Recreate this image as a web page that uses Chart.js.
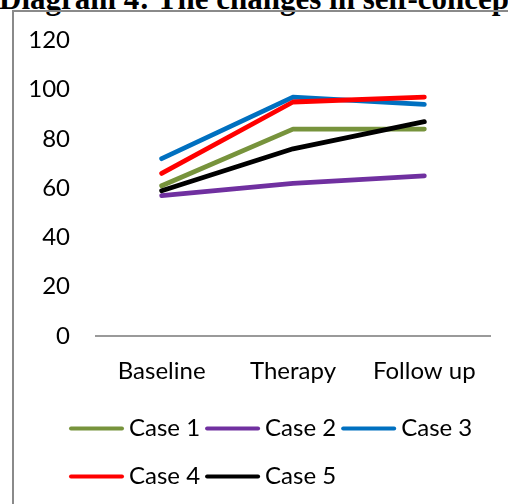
<!DOCTYPE html>
<html>
<head>
<meta charset="utf-8">
<script src="https://cdn.jsdelivr.net/npm/chart.js@4.4.1/dist/chart.umd.min.js"></script>
<style>
  html, body { margin: 0; padding: 0; width: 508px; height: 504px; overflow: hidden; background: #fff; }
  #title { position: absolute; left: -1px; top: -17px; font-family: "Liberation Serif", "DejaVu Serif", serif; font-weight: bold; font-size: 31px; line-height: 31px; white-space: nowrap; color: #000; }
  #frame { position: absolute; left: 12px; top: 10px; width: 700px; height: 700px; border: 2px solid #8a8a8a; box-sizing: border-box; }
  #wrap { position: absolute; left: 0; top: 0; width: 508px; height: 508px; }
</style>
</head>
<body>
<div id="title">Diagram 4: The changes in self-concept</div>
<div id="frame"></div>
<div id="wrap"><canvas id="c" width="508" height="508"></canvas></div>
<script>
const categories = ["Baseline", "Therapy", "Follow up"];
const seriesNames = ["Case 1", "Case 2", "Case 3", "Case 4", "Case 5"];
const case1 = [61, 84, 84];
const case2 = [57, 62, 65];
const case3 = [72, 97, 94];
const case4 = [66, 95, 97];
const case5 = [59, 76, 87];
const yTicks = [0, 20, 40, 60, 80, 100, 120];
const colors = ["#77933C", "#7030A0", "#0070C0", "#FF0000", "#000000"];

const seriesValues = [case1, case2, case3, case4, case5];
const datasets = seriesValues.map((vals, i) => ({
  label: seriesNames[i],
  data: vals,
  borderColor: colors[i],
  backgroundColor: colors[i],
  borderWidth: 4.8,
  borderCapStyle: 'round',
  borderJoinStyle: 'round',
  pointRadius: 0,
  tension: 0,
  fill: false,
  order: seriesValues.length - i
}));

const FONT = "Lato";
const LEGEND_LEFT = 64;
const legendLines = {
  id: 'legendLines',
  afterUpdate(chart) {
    const lg = chart.legend;
    if (!lg) return;
    const d = LEGEND_LEFT - lg.left;
    lg.left += d;
    lg.right += d;
    (lg.legendHitBoxes || []).forEach(h => { h.left += d; });
  },
  afterDraw(chart) {
    const lg = chart.legend;
    if (!lg || !lg.legendHitBoxes) return;
    const ctx = chart.ctx;
    ctx.save();
    lg.legendItems.forEach((item, i) => {
      const hb = lg.legendHitBoxes[i];
      const y = hb.top + hb.height / 2;
      ctx.beginPath();
      ctx.strokeStyle = colors[item.datasetIndex];
      ctx.lineWidth = 4;
      ctx.lineCap = 'round';
      ctx.moveTo(hb.left + 2, y);
      ctx.lineTo(hb.left + 53, y);
      ctx.stroke();
    });
    ctx.restore();
  }
};

new Chart(document.getElementById('c'), {
  type: 'line',
  data: { labels: categories, datasets },
  options: {
    responsive: false,
    animation: false,
    devicePixelRatio: 1,
    layout: { padding: { top: 38, right: 18, bottom: 0, left: 30 } },
    plugins: {
      title: { display: false },
      tooltip: { enabled: false },
      legend: {
        position: 'bottom',
        align: 'start',
        labels: {
          boxWidth: 48,
          boxHeight: 43,
          padding: 5,
          color: '#000',
          font: { family: FONT, size: 24 },
          sort: (a, b) => a.datasetIndex - b.datasetIndex,
          generateLabels(chart) {
            const items = Chart.defaults.plugins.legend.labels.generateLabels(chart);
            return items.map(it => Object.assign(it, {
              fillStyle: 'rgba(0,0,0,0)', strokeStyle: 'rgba(0,0,0,0)', lineWidth: 0
            }));
          }
        }
      }
    },
    scales: {
      x: {
        offset: true,
        grid: { display: false, drawTicks: false },
        border: { display: true, color: '#9a9a9a', width: 2 },
        ticks: { color: '#000', font: { family: FONT, size: 24 }, padding: 21, maxRotation: 0 },
        afterFit(scale) { scale.height = 66; }
      },
      y: {
        min: 0,
        max: 120,
        grid: { display: false, drawTicks: false },
        border: { display: false },
        ticks: {
          color: '#000',
          font: { family: FONT, size: 24 },
          padding: 26,
          stepSize: 20,
          callback: (v) => yTicks.includes(v) ? String(v) : ''
        },
        afterFit(scale) { scale.width = 66; }
      }
    }
  },
  plugins: [legendLines]
});
</script>
</body>
</html>
